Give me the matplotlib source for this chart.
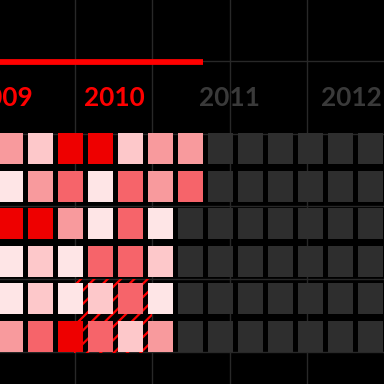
import matplotlib
matplotlib.use("Agg")
import matplotlib.pyplot as plt
from matplotlib.patches import Rectangle
import numpy as np

# ---- data ----
# intensity level per cell (0 = no data, 1 = lightest ... 5 = strongest)
row0 = [3, 2, 5, 5, 2, 3, 3, 0, 0, 0, 0, 0, 0]
row1 = [1, 3, 4, 1, 4, 3, 4, 0, 0, 0, 0, 0, 0]
row2 = [5, 5, 3, 1, 4, 1, 0, 0, 0, 0, 0, 0, 0]
row3 = [1, 2, 1, 4, 4, 2, 0, 0, 0, 0, 0, 0, 0]
row4 = [1, 2, 1, 2, 4, 1, 0, 0, 0, 0, 0, 0, 0]
row5 = [3, 4, 5, 4, 2, 3, 0, 0, 0, 0, 0, 0, 0]
rows = [row0, row1, row2, row3, row4, row5]
year_labels = ["2009", "2010", "2011", "2012"]
year_active = [True, True, False, False]

# ---- style ----
level_colors = ["#2e2e2e", "#fee5e6", "#fdc8ca", "#f89a9d", "#f6646a", "#ee0000"]
RED = "#ff0000"
GRID = "#282828"
INACTIVE = "#3a3a3a"

DPI = 80
W = H = 384
plt.rcParams["hatch.linewidth"] = 2.0
plt.rcParams["hatch.color"] = RED
fig = plt.figure(figsize=(W / DPI, H / DPI), dpi=DPI, facecolor="black")

# background layer (pixel space) for grid, hatch
bg = fig.add_axes([0, 0, 1, 1])
bg.set_xlim(0, W)
bg.set_ylim(H, 0)
bg.set_facecolor("black")
bg.axis("off")
grid_x = [75, 152, 229.5, 307]
grid_y = [61, 133.75, 206, 279, 352]
for gx in grid_x:
    bg.axvline(gx, color=GRID, lw=1.25, zorder=1)
for gy in grid_y:
    bg.axhline(gy, color=GRID, lw=1.25, zorder=1)
bg.add_patch(Rectangle((74, 279), 78, 73.5, facecolor="none", edgecolor=RED,
                       hatch="//", lw=0, zorder=2))

# main layer in column/row units
ax = fig.add_axes([0, 0, 1, 1])
ax.patch.set_alpha(0)
ax.axis("off")
x0_px, pitch_x = 10.5, 30.0
y0_px, pitch_y = 148.5, 37.6
ax.set_xlim(-x0_px / pitch_x, (W - x0_px) / pitch_x)
ax.set_ylim((H - y0_px) / pitch_y, -y0_px / pitch_y)

cell_w, cell_h = 0.85, 0.82
ncols = len(row0)
cols = np.arange(ncols)
for r, vals in enumerate(rows):
    ax.bar(cols, cell_h, bottom=r - cell_h / 2, width=cell_w,
           color=[level_colors[v] for v in vals], zorder=3, linewidth=0)

# progress line up to last column with data
last_col = max(max(i for i, v in enumerate(rv) if v > 0) for rv in rows)
line_y = (61.5 - y0_px) / pitch_y
ax.plot([ax.get_xlim()[0], last_col + cell_w / 2], [line_y, line_y],
        color=RED, lw=5.2, solid_capstyle="butt", zorder=4)

# year labels
label_x_px = [2, 114, 229.5, 351]
label_y = (98 - y0_px) / pitch_y
for lab, xp, act in zip(year_labels, label_x_px, year_active):
    ax.text((xp - x0_px) / pitch_x, label_y, lab, ha="center", va="center",
            color=RED if act else INACTIVE, fontsize=23.5, fontweight="bold",
            family=["Lato", "DejaVu Sans"], zorder=5)

fig.savefig("out.png", dpi=DPI, facecolor="black")
